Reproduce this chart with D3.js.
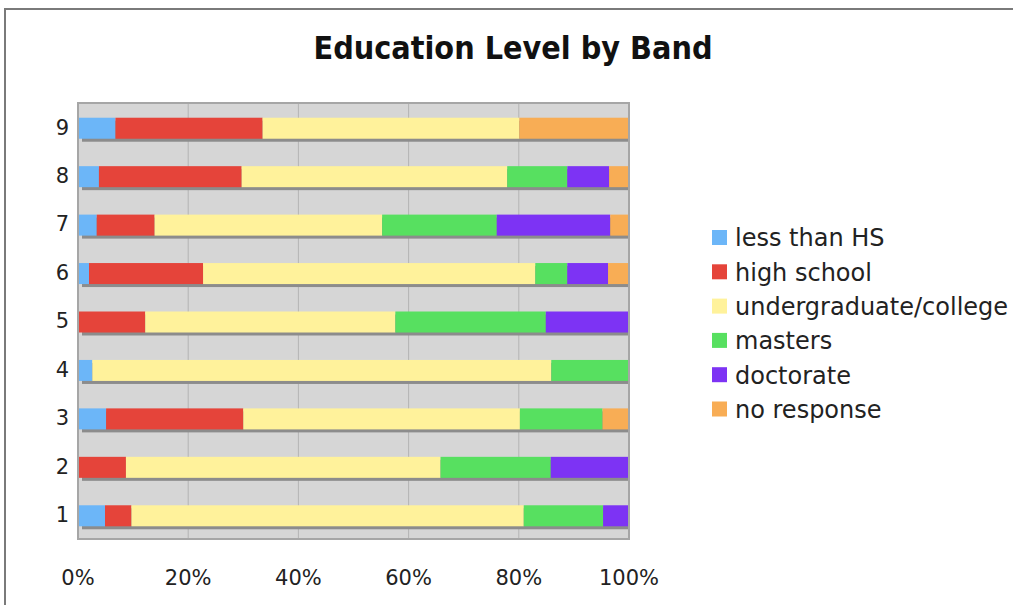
<!DOCTYPE html>
<html lang='en'>
<head>
<meta charset="utf-8">
<style>
body {
  margin: 0;
  background: #fff;
}
text {
  font-family: "DejaVu Sans", Verdana, sans-serif;
  fill: #222;
}
.title {
  font-family: "DejaVu Sans Condensed", "DejaVu Sans", sans-serif;
  font-weight: bold;
  font-size: 32px;
  fill: #111;
}
.axis text {
  font-size: 21px;
}
.legend text {
  font-size: 24px;
}
</style>
</head>
<body>
<svg width="1013" height="605"></svg>

<script src="https://cdn.jsdelivr.net/npm/d3@7"></script>
<script>
  // bands, bottom to top
  var bands = ["1", "2", "3", "4", "5", "6", "7", "8", "9"];
  var levels = ["less than HS", "high school", "undergraduate/college", "masters", "doctorate", "no response"];
  var colors = ["#6cb6f8", "#e5443a", "#fff29b", "#57e060", "#7d33f4", "#f8ad55"];
  var xTicks = [0, 0.2, 0.4, 0.6, 0.8, 1];

  // percent of each band, per level
  var lessThanHS = [4.9, 0, 5.1, 2.6, 0, 2.0, 3.4, 3.8, 6.8];
  var highSchool = [4.8, 8.7, 24.9, 0, 12.2, 20.7, 10.5, 25.9, 26.7];
  var undergrad = [71.2, 57.1, 50.2, 83.3, 45.4, 60.3, 41.3, 48.2, 46.6];
  var masters = [14.4, 20.0, 15.0, 14.1, 27.3, 5.8, 20.8, 10.9, 0];
  var doctorate = [4.7, 14.2, 0, 0, 15.1, 7.4, 20.6, 7.6, 0];
  var noResponse = [0, 0, 4.8, 0, 0, 3.8, 3.4, 3.6, 19.9];

  var series = [lessThanHS, highSchool, undergrad, masters, doctorate, noResponse];

  var rows = bands.map(function(b, i) {
    var row = { band: b };
    levels.forEach(function(l, j) { row[l] = series[j][i]; });
    return row;
  });

  var svg = d3.select("svg");

  var plot = { left: 78, right: 629, top: 103, bottom: 539 };

  var x = d3.scaleLinear().domain([0, 1]).range([plot.left, plot.right]);
  var y = d3.scaleBand().domain(bands.slice().reverse()).range([plot.top, plot.bottom]);
  var color = d3.scaleOrdinal().domain(levels).range(colors);

  var stacked = d3.stack().keys(levels).offset(d3.stackOffsetExpand)(rows);

  // outer frame (top and left edges)
  svg.append("path")
      .attr("d", "M5,605V9H1013")
      .attr("fill", "none")
      .attr("stroke", "#7a7a7a")
      .attr("stroke-width", 2);

  svg.append("text")
      .attr("class", "title")
      .attr("x", 513)
      .attr("y", 59)
      .attr("text-anchor", "middle")
      .text("Education Level by Band");

  svg.append("rect")
      .attr("x", plot.left)
      .attr("y", plot.top)
      .attr("width", plot.right - plot.left)
      .attr("height", plot.bottom - plot.top)
      .attr("fill", "#d6d6d6");

  svg.append("g")
    .selectAll("line")
    .data(xTicks.slice(1, -1))
    .enter().append("line")
      .attr("x1", function(d) { return x(d); })
      .attr("x2", function(d) { return x(d); })
      .attr("y1", plot.top)
      .attr("y2", plot.bottom)
      .attr("stroke", "#b4b4b4")
      .attr("stroke-width", 1);

  var barH = 21;
  var barY = function(b) { return y(b) + y.bandwidth() / 2 - barH / 2 + 1; };

  // bar shadows
  svg.append("g")
    .selectAll("rect")
    .data(bands)
    .enter().append("rect")
      .attr("x", x(0) + 4)
      .attr("y", function(d) { return barY(d) + 3; })
      .attr("width", x(1) - x(0) - 4)
      .attr("height", barH)
      .attr("fill", "#8c8c8c");

  svg.append("g")
    .selectAll("g")
    .data(stacked)
    .enter().append("g")
      .attr("fill", function(d) { return color(d.key); })
    .selectAll("rect")
    .data(function(d) { return d; })
    .enter().append("rect")
      .attr("x", function(d) { return x(d[0]); })
      .attr("y", function(d) { return barY(d.data.band); })
      .attr("width", function(d) { return x(d[1]) - x(d[0]); })
      .attr("height", barH);

  svg.append("rect")
      .attr("x", plot.left)
      .attr("y", plot.top)
      .attr("width", plot.right - plot.left)
      .attr("height", plot.bottom - plot.top)
      .attr("fill", "none")
      .attr("stroke", "#a6a6a6")
      .attr("stroke-width", 2);

  // y labels
  svg.append("g")
      .attr("class", "axis")
    .selectAll("text")
    .data(bands)
    .enter().append("text")
      .attr("x", 69)
      .attr("y", function(d) { return y(d) + y.bandwidth() / 2; })
      .attr("dy", "0.35em")
      .attr("text-anchor", "end")
      .text(function(d) { return d; });

  // x labels
  svg.append("g")
      .attr("class", "axis")
    .selectAll("text")
    .data(xTicks)
    .enter().append("text")
      .attr("x", function(d) { return x(d); })
      .attr("y", 585)
      .attr("text-anchor", "middle")
      .text(d3.format(".0%"));

  var legend = svg.append("g")
      .attr("class", "legend")
    .selectAll("g")
    .data(levels)
    .enter().append("g")
      .attr("transform", function(d, i) { return "translate(712," + (238 + i * 34.3) + ")"; });

  legend.append("rect")
      .attr("y", -8)
      .attr("width", 15)
      .attr("height", 15)
      .attr("fill", function(d) { return color(d); });

  legend.append("text")
      .attr("x", 23)
      .attr("dy", "0.35em")
      .text(function(d) { return d; });
</script>
</body>
</html>
